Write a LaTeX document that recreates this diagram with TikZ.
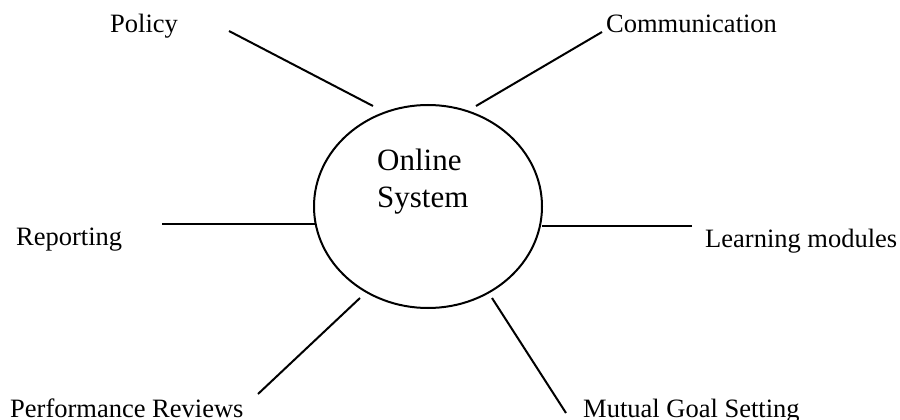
\documentclass[tikz,border=0pt]{standalone}
\usepackage{fontspec}
\setmainfont{Liberation Serif}
\usetikzlibrary{shapes.geometric}

\begin{document}
\begin{tikzpicture}[x=1pt, y=-1pt,
        spoke/.style={line width=2pt},
        topic/.style={anchor=base west, inner sep=0pt, font=\fontsize{26.5}{30}\selectfont}]
        \useasboundingbox (0, 0) rectangle (900, 420);

        \node[draw, ellipse, line width=2pt, minimum width=228pt, minimum height=203pt] (sys) at (428, 206.5) {};
        \node[anchor=base west, inner sep=0pt, align=left, font=\fontsize{31}{37}\selectfont] (sysname) at (377, 207) {Online\\System};

        \node[topic] (policy) at (110, 33) {Policy};
        \node[topic] (comm) at (606, 33) {Communication};
        \node[topic] (report) at (16, 245) {Reporting};
        \node[topic] (learn) at (705, 247) {Learning modules};
        \node[topic] (perf) at (10, 417) {Performance Reviews};
        \node[topic] (goal) at (583, 417) {Mutual Goal Setting};

        \coordinate (policy-a) at (229, 31);
        \coordinate (policy-b) at (373, 106);
        \coordinate (comm-a) at (602, 32);
        \coordinate (comm-b) at (476, 106);
        \coordinate (report-a) at (162, 224);
        \coordinate (report-b) at (315, 224);
        \coordinate (learn-a) at (692, 226);
        \coordinate (learn-b) at (542, 226);
        \coordinate (perf-a) at (258, 394);
        \coordinate (perf-b) at (360, 298);
        \coordinate (goal-a) at (566, 413);
        \coordinate (goal-b) at (492, 298);

        \draw[spoke] (policy-a) -- (policy-b);
        \draw[spoke] (comm-a) -- (comm-b);
        \draw[spoke] (report-a) -- (report-b);
        \draw[spoke] (learn-a) -- (learn-b);
        \draw[spoke] (perf-a) -- (perf-b);
        \draw[spoke] (goal-a) -- (goal-b);
    \end{tikzpicture}
\end{document}
